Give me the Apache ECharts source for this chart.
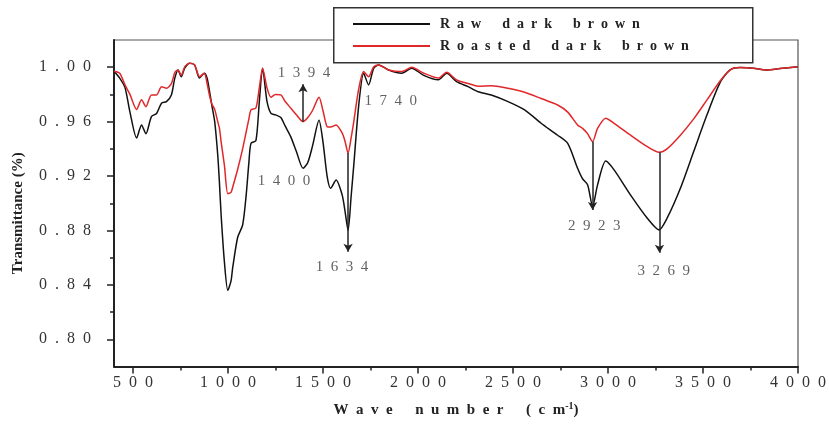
<!DOCTYPE html>
<html>
<head>
<meta charset="utf-8">
<script src="https://cdn.jsdelivr.net/npm/echarts@6/dist/echarts.min.js"></script>
<style>html,body{margin:0;padding:0;background:#fff}#c{width:829px;height:430px}</style>
</head>
<body>
<div id="c"></div>
<script>
// ---- data ----
const waveNumbers = [400,430,458,484,519,545,568,597,624,650,676,702,720,737,754,772,798,824,850,875,890,903,915,930,946,955,964,981,999,1016,1025,1051,1077,1095,1110,1121,1147,1165,1182,1205,1226,1250,1278,1300,1330,1360,1395,1420,1444,1479,1500,1522,1540,1569,1601,1615,1632,1648,1662,1688,1714,1740,1767,1793,1845,1915,1967,2030,2107,2151,2203,2264,2317,2386,2474,2561,2648,2735,2788,2840,2866,2893,2919,2945,2988,3032,3119,3207,3269,3311,3381,3451,3521,3591,3643,3695,3765,3835,3905,4000];
const rawDarkBrown = [0.997,0.992,0.985,0.967,0.948,0.9576,0.951,0.9637,0.966,0.9735,0.9747,0.9796,0.992,0.998,0.993,0.9993,1.003,1.0017,0.992,0.9956,0.992,0.982,0.972,0.960,0.9355,0.915,0.891,0.857,0.836,0.843,0.853,0.875,0.884,0.905,0.930,0.944,0.946,0.975,0.9993,0.975,0.966,0.965,0.963,0.957,0.949,0.938,0.9257,0.930,0.9416,0.961,0.945,0.9196,0.911,0.917,0.906,0.895,0.880,0.905,0.928,0.972,0.9956,0.987,0.9993,1.0017,0.998,0.9956,0.9993,0.994,0.9907,0.9956,0.9894,0.9857,0.982,0.9796,0.9747,0.9686,0.9588,0.950,0.944,0.9257,0.918,0.9135,0.8975,0.9135,0.931,0.9245,0.906,0.889,0.8804,0.889,0.911,0.938,0.965,0.989,0.998,0.9997,0.9993,0.998,0.999,1.0004];
const roastedDarkBrown = [0.997,0.9955,0.987,0.980,0.969,0.976,0.971,0.9796,0.9796,0.9857,0.9845,0.988,0.996,0.998,0.994,1.0003,1.003,1.0017,0.993,0.9956,0.988,0.979,0.973,0.969,0.960,0.955,0.945,0.928,0.907,0.908,0.912,0.925,0.940,0.952,0.962,0.9686,0.970,0.985,0.9993,0.985,0.978,0.980,0.9796,0.975,0.970,0.965,0.960,0.963,0.968,0.978,0.968,0.9563,0.956,0.9576,0.9515,0.946,0.937,0.948,0.960,0.984,0.9968,0.993,1.0004,1.0017,0.998,0.9968,1.0,0.9956,0.992,0.9963,0.9906,0.988,0.986,0.9864,0.9845,0.9816,0.977,0.9722,0.967,0.9576,0.955,0.951,0.9453,0.955,0.9625,0.9588,0.950,0.9416,0.9375,0.940,0.950,0.962,0.976,0.990,0.998,0.9997,0.9993,0.998,0.999,1.0004];
const xTickLabels = [500,1000,1500,2000,2500,3000,3500,4000];
const xMinorTicks = [750,1250,1750,2250,2750,3250,3750];
const yTickLabels = [0.80,0.84,0.88,0.92,0.96,1.00];
const yMinorTicks = [0.82,0.86,0.90,0.94,0.98];
// peak annotations: arrows (x, from, to) and labels (x, y, text)
const arrowX    = [1395, 1632, 2919, 3271];
const arrowFrom = [0.960, 0.937, 0.9453, 0.9375];
const arrowTo   = [0.9875, 0.8644, 0.895, 0.8637];
const peakLabelX = [1400, 1295, 1600, 1856, 2927, 3294];
const peakLabelY = [0.9956, 0.916, 0.853, 0.9754, 0.8835, 0.8504];
const peakLabelText = ['1394','1400','1634','1740','2923','3269'];

const sp = s => String(s).split('').join('\u2002');
const wsp = s => s.split(' ').map(w => w.split('').join('\u2002')).join('\u2003\u2002');
const SERIF = '"Liberation Serif","DejaVu Serif",serif';
const RAW_COLOR = '#111', ROAST_COLOR = '#e0282a';

const chart = echarts.init(document.getElementById('c'));
const mk = arr => waveNumbers.map((w,i)=>[w,arr[i]]);

chart.setOption({
  animation:false,
  backgroundColor:'#fff',
  grid:{left:114,right:28,top:40,bottom:63.5,show:true,borderColor:'#555',borderWidth:1.2,backgroundColor:'transparent'},
  xAxis:[{
    type:'value',min:400,max:4000,
    axisLine:{lineStyle:{color:'#222',width:2}},
    axisTick:{customValues:xTickLabels,length:7,lineStyle:{color:'#222',width:1.5}},
    axisLabel:{customValues:xTickLabels,formatter:v=>sp(v),fontFamily:SERIF,fontSize:16,color:'#333',margin:8},
    splitLine:{show:false},
    name:'{a|'+wsp('Wave number (cm')+'}{s|-1}{a|)}',nameLocation:'middle',nameGap:35,
    nameTextStyle:{rich:{a:{fontFamily:SERIF,fontWeight:'bold',fontSize:15,color:'#222'},
      s:{fontFamily:SERIF,fontWeight:'bold',fontSize:10,color:'#222',verticalAlign:'top',padding:[0,0,8,0]}}}
  },{
    type:'value',min:400,max:4000,position:'bottom',
    axisLine:{show:false},
    axisTick:{customValues:xMinorTicks,length:4,lineStyle:{color:'#222',width:1.5}},
    axisLabel:{show:false},splitLine:{show:false}
  }],
  yAxis:[{
    type:'value',min:0.78,max:1.02,
    axisLine:{show:true,lineStyle:{color:'#222',width:2}},
    axisTick:{show:true,customValues:yTickLabels,length:7,lineStyle:{color:'#222',width:1.5}},
    axisLabel:{customValues:yTickLabels,formatter:v=>sp(v.toFixed(2)),fontFamily:SERIF,fontSize:16,color:'#333',margin:23},
    splitLine:{show:false},
    name:'Transmittance (%)',nameLocation:'middle',nameGap:88,
    nameTextStyle:{fontFamily:SERIF,fontWeight:'bold',fontSize:15,color:'#222',padding:[0,20,0,0]}
  },{
    type:'value',min:0.78,max:1.02,position:'left',
    axisLine:{show:false},
    axisTick:{show:true,customValues:yMinorTicks,length:4,lineStyle:{color:'#222',width:1.5}},
    axisLabel:{show:false},splitLine:{show:false}
  }],
  legend:{
    data:[{name:'Raw dark brown',icon:'rect',itemStyle:{color:RAW_COLOR}},
          {name:'Roasted dark brown',icon:'rect',itemStyle:{color:ROAST_COLOR}}],
    orient:'vertical',left:353,top:17,itemWidth:77,itemHeight:2,itemGap:8,padding:0,z:20,
    formatter:n=>wsp(n),
    textStyle:{fontFamily:SERIF,fontWeight:'bold',fontSize:14,color:'#222',padding:[0,0,0,5],lineHeight:14}
  },
  graphic:[{type:'rect',left:333,top:7,z:10,shape:{width:419,height:55},style:{fill:'#fff',stroke:'#333',lineWidth:1.5}}],
  series:[
    {name:'Raw dark brown',type:'line',data:mk(rawDarkBrown),symbol:'none',smooth:0.25,
     lineStyle:{color:RAW_COLOR,width:1.5},itemStyle:{color:RAW_COLOR},z:2},
    {name:'Roasted dark brown',type:'line',data:mk(roastedDarkBrown),symbol:'none',smooth:0.25,
     lineStyle:{color:ROAST_COLOR,width:1.5},itemStyle:{color:ROAST_COLOR},z:3},
    {name:'annotations',type:'scatter',symbolSize:0,silent:true,z:6,
     data:peakLabelX.map((x,i)=>({value:[x,peakLabelY[i]],label:{formatter:sp(peakLabelText[i])}})),
     label:{show:true,position:'inside',fontFamily:SERIF,fontSize:15,color:'#3a3a3a'},
     markLine:{silent:true,symbol:['none','arrow'],symbolSize:[7,8],precision:4,
       lineStyle:{color:'#222',width:1.5,type:'solid'},label:{show:false},
       data:arrowX.map((x,i)=>[{coord:[x,arrowFrom[i]]},{coord:[x,arrowTo[i]]}])}
    }
  ]
});
</script>
</body>
</html>
